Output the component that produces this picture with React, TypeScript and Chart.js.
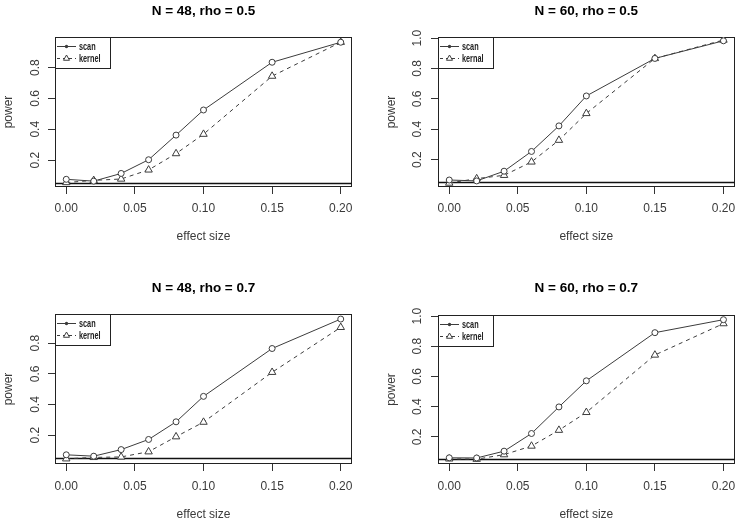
import React, { useEffect, useRef } from "react";
import { Chart, registerables } from "chart.js";

Chart.register(...registerables);

// ---------------- data ----------------
const EFFECT_SIZE = [0, 0.02, 0.04, 0.06, 0.08, 0.1, 0.15, 0.2];
const X_TICKS = [0, 0.05, 0.1, 0.15, 0.2];
const X_RANGE = [-0.0082, 0.2082];
const Y_TICKS_SHORT = [0.2, 0.4, 0.6, 0.8];
const Y_TICKS_LONG = [0.2, 0.4, 0.6, 0.8, 1.0];
const ALPHA_LINE = 0.05;

const TITLES = ["N = 48, rho = 0.5", "N = 60, rho = 0.5", "N = 48, rho = 0.7", "N = 60, rho = 0.7"];
const LEGEND_LABELS_A = ["scan", "kernel"];
const LEGEND_LABELS_B = ["scan", "kernal"];

const SCAN_N48_R05 = [0.075, 0.063, 0.113, 0.202, 0.362, 0.525, 0.835, 0.965];
const KERNEL_N48_R05 = [0.054, 0.068, 0.077, 0.136, 0.242, 0.368, 0.745, 0.965];
const SCAN_N60_R05 = [0.066, 0.06, 0.124, 0.254, 0.422, 0.619, 0.866, 0.982];
const KERNEL_N60_R05 = [0.046, 0.075, 0.097, 0.185, 0.328, 0.504, 0.866, 0.987];
const SCAN_N48_R07 = [0.072, 0.063, 0.106, 0.172, 0.287, 0.453, 0.765, 0.957];
const KERNEL_N48_R07 = [0.046, 0.055, 0.058, 0.092, 0.19, 0.285, 0.61, 0.903];
const SCAN_N60_R07 = [0.061, 0.06, 0.105, 0.222, 0.398, 0.571, 0.89, 0.976];
const KERNEL_N60_R07 = [0.054, 0.052, 0.082, 0.139, 0.244, 0.362, 0.742, 0.95];

const Y_RANGE_N48_R05 = [0.025, 0.999];
const Y_RANGE_N60_R05 = [0.02, 1.007];
const Y_RANGE_N48_R07 = [0.012, 0.99];
const Y_RANGE_N60_R07 = [0.02, 1.007];

// ---------------- layout ----------------
type Layout = {
  left: number; top: number; w: number; h: number;
  box: { l: number; r: number; t: number; b: number };
  titleY: number; xTitleY: number; yTitleX: number; xTickY: number; yTickGap: number;
};

const LAYOUTS: Layout[] = [
  { left: 0, top: 0, w: 370, h: 260, box: { l: 55, r: 352, t: 37, b: 187 }, titleY: 11, xTitleY: 237, yTitleX: 9, xTickY: 209, yTickGap: 19 },
  { left: 370, top: 0, w: 370, h: 260, box: { l: 68, r: 365, t: 37, b: 187 }, titleY: 11, xTitleY: 237, yTitleX: 22, xTickY: 209, yTickGap: 20 },
  { left: 0, top: 260, w: 370, h: 263, box: { l: 55, r: 352, t: 54, b: 204 }, titleY: 28, xTitleY: 255, yTitleX: 9, xTickY: 227, yTickGap: 19 },
  { left: 370, top: 260, w: 370, h: 263, box: { l: 68, r: 365, t: 55, b: 204 }, titleY: 28, xTitleY: 255, yTitleX: 22, xTickY: 227, yTickGap: 20 },
];

const PANELS = [
  { title: TITLES[0], scan: SCAN_N48_R05, kernel: KERNEL_N48_R05, labels: LEGEND_LABELS_A, yRange: Y_RANGE_N48_R05, yTicks: Y_TICKS_SHORT },
  { title: TITLES[1], scan: SCAN_N60_R05, kernel: KERNEL_N60_R05, labels: LEGEND_LABELS_B, yRange: Y_RANGE_N60_R05, yTicks: Y_TICKS_LONG },
  { title: TITLES[2], scan: SCAN_N48_R07, kernel: KERNEL_N48_R07, labels: LEGEND_LABELS_A, yRange: Y_RANGE_N48_R07, yTicks: Y_TICKS_SHORT },
  { title: TITLES[3], scan: SCAN_N60_R07, kernel: KERNEL_N60_R07, labels: LEGEND_LABELS_A, yRange: Y_RANGE_N60_R07, yTicks: Y_TICKS_LONG },
];

const FAMILY = '"Liberation Sans", Arial, Helvetica, sans-serif';
const TEXT_COLOR = "#3a3a3a";
const LINE_COLOR = "#3c3c3c";
const AXIS_FONT = { family: FAMILY, size: 12, lineHeight: 1.2 };
const TICK_LEN = 7;

const boxPlugin = {
  id: "rbox",
  beforeDatasetsDraw(chart: any) {
    const { ctx, chartArea: a, scales } = chart;
    ctx.save();
    ctx.strokeStyle = "#222";
    ctx.lineWidth = 1;
    const l = Math.round(a.left) + 0.5;
    const t = Math.round(a.top) + 0.5;
    const r = Math.round(a.right) - 0.5;
    const b = Math.round(a.bottom) - 0.5;
    ctx.strokeRect(l, t, r - l, b - t);
    const y = Math.round(scales.y.getPixelForValue(ALPHA_LINE)) + 0.5;
    ctx.strokeStyle = "#111";
    ctx.lineWidth = 1.3;
    ctx.beginPath();
    ctx.moveTo(l, y);
    ctx.lineTo(r, y);
    ctx.stroke();
    ctx.restore();
  },
};

const legendPlugin = {
  id: "rlegend",
  afterDatasetsDraw(chart: any) {
    const { ctx, chartArea: a } = chart;
    const x0 = Math.round(a.left) + 0.5;
    const y0 = Math.round(a.top) + 0.5;
    ctx.save();
    ctx.fillStyle = "#fff";
    ctx.fillRect(x0, y0, 55, 31);
    ctx.strokeStyle = "#222";
    ctx.lineWidth = 1;
    ctx.strokeRect(x0, y0, 55, 31);
    ctx.font = 'bold 10.5px "Liberation Sans Narrow", "Liberation Sans", Arial, sans-serif';
    const ref = ctx.measureText("kernel").width;
    const sx = Math.min(1, 21.5 / ref);
    chart.data.datasets.forEach((ds: any, i: number) => {
      const y = a.top + 9.5 + i * 12;
      const lx0 = a.left + 2;
      const lx1 = a.left + 21;
      const mx = a.left + 11.5;
      ctx.strokeStyle = LINE_COLOR;
      ctx.lineWidth = 1;
      ctx.setLineDash(ds.borderDash && ds.borderDash.length ? [3, 3] : []);
      ctx.beginPath();
      ctx.moveTo(lx0, y);
      ctx.lineTo(lx1, y);
      ctx.stroke();
      ctx.setLineDash([]);
      ctx.fillStyle = "#fff";
      ctx.beginPath();
      if (ds.pointStyle === "triangle") {
        const r = 3.5;
        ctx.moveTo(mx, y - r);
        ctx.lineTo(mx + r * 0.866, y + r * 0.5);
        ctx.lineTo(mx - r * 0.866, y + r * 0.5);
        ctx.closePath();
        ctx.fill();
        ctx.stroke();
      } else {
        ctx.arc(mx, y, 1.7, 0, Math.PI * 2);
        ctx.fillStyle = LINE_COLOR;
        ctx.fill();
      }
      ctx.fillStyle = "#222";
      ctx.textBaseline = "middle";
      ctx.textAlign = "left";
      ctx.save();
      ctx.translate(a.left + 24, y + 0.5);
      ctx.scale(sx, 1);
      ctx.fillText(ds.label, 0, 0);
      ctx.restore();
    });
    ctx.restore();
  },
};

function Panel({ index }: { index: number }) {
  const ref = useRef<HTMLCanvasElement | null>(null);
  const L = LAYOUTS[index];
  const P = PANELS[index];

  useEffect(() => {
    if (!ref.current) return;
    const lh = 12 * 1.2;
    const titleLh = 13.5 * 1.2;
    const chart = new Chart(ref.current, {
      type: "line",
      data: {
        datasets: [
          {
            label: P.labels[0],
            data: EFFECT_SIZE.map((x, i) => ({ x, y: P.scan[i] })),
            borderColor: LINE_COLOR,
            borderWidth: 1,
            pointStyle: "circle",
            pointRadius: 3,
            pointBorderWidth: 1,
            pointBackgroundColor: "#fff",
            pointBorderColor: LINE_COLOR,
            tension: 0,
          },
          {
            label: P.labels[1],
            data: EFFECT_SIZE.map((x, i) => ({ x, y: P.kernel[i] })),
            borderColor: LINE_COLOR,
            borderWidth: 1,
            borderDash: [4, 4],
            pointStyle: "triangle",
            pointRadius: 4.3,
            pointBorderWidth: 1,
            pointBackgroundColor: "#fff",
            pointBorderColor: LINE_COLOR,
            tension: 0,
          },
        ],
      },
      options: {
        animation: false,
        responsive: false,
        events: [],
        layout: { padding: { left: 0, top: 0, right: L.w - L.box.r, bottom: 0 } },
        plugins: {
          legend: { display: false },
          tooltip: { enabled: false },
          title: {
            display: true,
            text: P.title,
            fullSize: false,
            color: "#000",
            font: { family: FAMILY, size: 13.5, weight: "bold", lineHeight: 1.2 },
            padding: { top: L.titleY - titleLh / 2, bottom: L.box.t - L.titleY - titleLh / 2 },
          },
        },
        scales: {
          x: {
            type: "linear",
            min: X_RANGE[0],
            max: X_RANGE[1],
            afterBuildTicks: (s: any) => {
              s.ticks = X_TICKS.map((v) => ({ value: v }));
            },
            afterFit: (s: any) => {
              s.height = L.h - L.box.b;
              s.paddingLeft = 0;
              s.paddingRight = 0;
            },
            ticks: {
              callback: (v: any) => Number(v).toFixed(2),
              color: TEXT_COLOR,
              font: AXIS_FONT,
              padding: L.xTickY - L.box.b - TICK_LEN - lh / 2,
              maxRotation: 0,
              minRotation: 0,
              autoSkip: false,
            },
            grid: { drawOnChartArea: false, drawTicks: true, tickLength: TICK_LEN, color: "#333", lineWidth: 1 },
            border: { display: false },
            title: {
              display: true,
              text: "effect size",
              color: TEXT_COLOR,
              font: AXIS_FONT,
              padding: { top: 0, bottom: L.h - L.xTitleY - lh / 2 },
            },
          },
          y: {
            type: "linear",
            min: P.yRange[0],
            max: P.yRange[1],
            afterBuildTicks: (s: any) => {
              s.ticks = P.yTicks.map((v) => ({ value: v }));
            },
            afterFit: (s: any) => {
              s.width = L.box.l;
              s.paddingTop = 0;
              s.paddingBottom = 0;
            },
            ticks: {
              callback: (v: any) => Number(v).toFixed(1),
              color: TEXT_COLOR,
              font: AXIS_FONT,
              crossAlign: "center",
              minRotation: 90,
              maxRotation: 90,
              padding: L.yTickGap - TICK_LEN - 8.35,
              autoSkip: false,
            },
            grid: { drawOnChartArea: false, drawTicks: true, tickLength: TICK_LEN, color: "#333", lineWidth: 1 },
            border: { display: false },
            title: {
              display: true,
              text: "power",
              color: TEXT_COLOR,
              font: AXIS_FONT,
              padding: { top: L.yTitleX - lh / 2, bottom: 0 },
            },
          },
        },
      } as any,
      plugins: [boxPlugin, legendPlugin],
    });
    return () => chart.destroy();
  }, [index]);

  return (
    <div style={{ position: "absolute", left: L.left, top: L.top, width: L.w, height: L.h }}>
      <canvas ref={ref} width={L.w} height={L.h} style={{ display: "block" }} />
    </div>
  );
}

export default function App() {
  return (
    <div style={{ position: "absolute", left: 0, top: 0, width: 740, height: 523, background: "#fff", overflow: "hidden" }}>
      {PANELS.map((_, i) => (
        <Panel key={i} index={i} />
      ))}
    </div>
  );
}
